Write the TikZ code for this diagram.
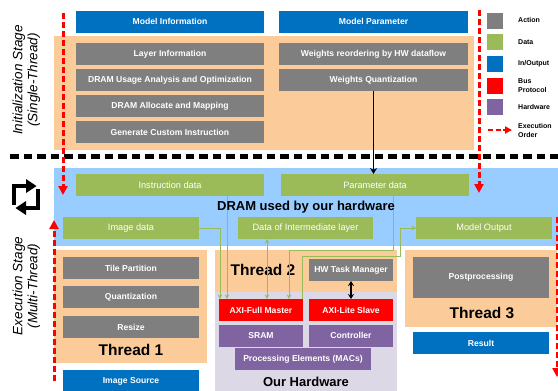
\documentclass[tikz,border=0pt]{standalone}
\usepackage{fontspec}
\setmainfont{Liberation Sans}
\usetikzlibrary{arrows.meta,calc}
\definecolor{actgray}{HTML}{7F7F7F}
\definecolor{datagreen}{HTML}{9BBB59}
\definecolor{ioblue}{HTML}{0070C0}
\definecolor{busred}{HTML}{FF0000}
\definecolor{hwpurple}{HTML}{8064A2}
\definecolor{panelorange}{HTML}{FCCB9A}
\definecolor{dramblue}{HTML}{99CCFF}
\definecolor{hwlav}{HTML}{DDD8E6}
\tikzset{
  box/.style={inner sep=0pt, outer sep=0pt, text=white,
    font=\bfseries\fontsize{8.6}{10}\selectfont, minimum height=22pt},
  act/.style={box, fill=actgray},
  dat/.style={box, fill=datagreen, font=\fontsize{9.2}{11}\selectfont},
  io/.style={box, fill=ioblue},
  bus/.style={box, fill=busred},
  hw/.style={box, fill=hwpurple},
  threadlbl/.style={inner sep=0pt, font=\bfseries\fontsize{15.5}{18}\selectfont},
  stagelbl/.style={rotate=90, align=center, inner sep=0pt,
    font=\itshape\fontsize{13.5}{15}\selectfont},
  legsq/.style={inner sep=0pt, outer sep=0pt, minimum size=16pt},
  leglbl/.style={anchor=west, inner sep=0pt, align=left,
    font=\bfseries\fontsize{7}{9}\selectfont},
  order/.style={draw=busred, line width=3pt, dash pattern=on 6pt off 3pt,
    -{Triangle[length=9pt,width=9pt]}},
  gline/.style={draw=datagreen, line width=1pt, -{Stealth[length=4.5pt,width=4.5pt]}},
}
\begin{document}
\begin{tikzpicture}[x=1pt,y=-1pt]
\useasboundingbox (0,0) rectangle (558,391);

% background panels
\fill[panelorange] (54,36) rectangle (474,150);
\fill[dramblue] (54,168) rectangle (558,246);
\fill[panelorange] (54,250) rectangle (207,363);
\fill[panelorange] (215,250) rectangle (397,292);
\fill[hwlav] (215,292) rectangle (397,391);
\fill[panelorange] (405,250) rectangle (557,327);

% initialization stage
\node[io, minimum width=188pt] (modelinfo) at (170,21.5) {Model Information};
\node[io, minimum width=189pt] (modelparam) at (373.5,21.5) {Model Parameter};
\node[act, minimum width=188pt] (layerinfo) at (170,54) {Layer Information};
\node[act, minimum width=188pt] (dramusage) at (170,80) {DRAM Usage Analysis and Optimization};
\node[act, minimum width=188pt] (dramalloc) at (170,106) {DRAM Allocate and Mapping};
\node[act, minimum width=188pt] (gencustom) at (170,132) {Generate Custom Instruction};
\node[act, minimum width=189pt] (reorder) at (373.5,54) {Weights reordering by HW dataflow};
\node[act, minimum width=189pt] (wquant) at (373.5,80) {Weights Quantization};

% DRAM contents
\node[dat, minimum width=188pt] (instr) at (170,185) {Instruction data};
\node[dat, minimum width=188pt] (paramdata) at (375,185) {Parameter data};
\node[dat, minimum width=136pt] (imgdata) at (131,228) {Image data};
\node[dat, minimum width=135pt] (interdata) at (305.5,228) {Data of Intermediate layer};
\node[dat, minimum width=136pt] (modelout) at (484,228) {Model Output};

% thread 1
\node[act, minimum width=136pt] (tile) at (131,268) {Tile Partition};
\node[act, minimum width=136pt] (quant) at (131,297) {Quantization};
\node[act, minimum width=136pt] (resize) at (131,327) {Resize};
\node[threadlbl] (t1) at (131,350) {Thread 1};
\node[io, minimum width=136pt] (imgsrc) at (131,381) {Image Source};

% thread 2 and hardware
\node[threadlbl] (t2) at (263,270) {Thread 2};
\node[act, minimum width=84pt] (hwtm) at (351,270) {HW Task Manager};
\node[bus, minimum width=84pt] (axifull) at (261,310) {AXI-Full Master};
\node[bus, minimum width=84pt] (axilite) at (351,310) {AXI-Lite Slave};
\node[hw, minimum width=84pt] (sram) at (261,335.5) {SRAM};
\node[hw, minimum width=84pt] (ctrl) at (351,335.5) {Controller};
\node[hw, minimum width=136pt] (pe) at (303,359) {Processing Elements (MACs)};
\node[inner sep=0pt, font=\bfseries\fontsize{13}{15}\selectfont] (ourhw) at (306,382) {Our Hardware};

% thread 3
\node[act, minimum width=136pt, minimum height=41pt] (post) at (481,277.5) {Postprocessing};
\node[threadlbl] (t3) at (482,313) {Thread 3};
\node[io, minimum width=136pt] (result) at (481,343) {Result};

% data paths between DRAM and the hardware
\coordinate (c1) at ($(axifull.north west)+(1,0)$);
\coordinate (c2) at ($(axifull.north west)+(8,0)$);
\coordinate (c3) at ($(axifull.north west)+(48,0)$);
\coordinate (c4) at ($(axifull.north west)+(70,0)$);
\coordinate (c5) at ($(axifull.north west)+(83,0)$);
\coordinate (pd) at ($(paramdata.south west)+(112,0)$);
\draw[gline] (imgdata.east) -| (c1);
\draw[gline] (c2 |- instr.south) -- (c2);
\draw[gline, {Stealth[length=4.5pt,width=4.5pt]}-{Stealth[length=4.5pt,width=4.5pt]}] (c3 |- interdata.south) -- (c3);
\draw[gline] (pd) -- ++(0,54) -| (c4);
\draw[gline] (c5) -- ++(0,-43) -| ($(modelout.west)+(-16,0)$) -- (modelout.west);

\node[inner sep=0pt, font=\bfseries\fontsize{13}{15}\selectfont] (dramlbl) at (306,207) {DRAM used by our hardware};

% control links
\draw[line width=1.5pt, {Stealth[length=5pt,width=6pt]}-{Stealth[length=5pt,width=6pt]}] (hwtm.south) -- (axilite.north);

% stage separator
\draw[line width=5pt, dash pattern=on 8.5pt off 5pt] (10,156) -- (558,156);

% parameters written to DRAM
\draw[line width=1.2pt, -{Stealth[length=6pt,width=7pt]}] (wquant.south) -- (wquant.south |- paramdata.north);

% execution order
\coordinate (o1s) at (63,13);   \coordinate (o1e) at (63,195);
\coordinate (o2s) at (479,10);  \coordinate (o2e) at (479,193);
\coordinate (o3s) at (54,381);  \coordinate (o3e) at (54,220);
\coordinate (o4s) at (557,217); \coordinate (o4e) at (557,377);
\draw[order] (o1s) -- (o1e);
\draw[order] (o2s) -- (o2e);
\draw[order] (o3s) -- (o3e);
\draw[order] (o4s) -- (o4e);

% stage labels
\node[stagelbl] (initlbl) at (26.5,80) {Initialization Stage\\(Single-Thread)};
\node[stagelbl] (execlbl) at (26.5,286) {Execution Stage\\(Multi-Thread)};

% repeat icon
\draw[line width=3.5pt] (14,205) -- (14,186) -- (28,186);
\fill (26,179) -- (36.5,186) -- (26,193) -- cycle;
\draw[line width=3.5pt] (38,189) -- (38,208) -- (24,208);
\fill (26,201) -- (15.5,208) -- (26,215) -- cycle;

% legend
\node[legsq, fill=actgray] (lg1) at (495,21) {};
\node[legsq, fill=datagreen] (lg2) at (495,42) {};
\node[legsq, fill=ioblue] (lg3) at (495,64) {};
\node[legsq, fill=busred] (lg4) at (495,86) {};
\node[legsq, fill=hwpurple] (lg5) at (495,107) {};
\coordinate (lg6s) at (488,130);
\coordinate (lg6e) at (512,130);
\draw[draw=busred, line width=2.5pt, dash pattern=on 5pt off 2.5pt,
  -{Triangle[length=7pt,width=7pt]}] (lg6s) -- (lg6e);
\node[leglbl] (ll1) at (518,20) {Action};
\node[leglbl] (ll2) at (518,42) {Data};
\node[leglbl] (ll3) at (518,64) {In/Output};
\node[leglbl] (ll4) at (518,86) {Bus\\Protocol};
\node[leglbl] (ll5) at (518,107) {Hardware};
\node[leglbl] (ll6) at (518,130) {Execution\\Order};
\end{tikzpicture}
\end{document}
